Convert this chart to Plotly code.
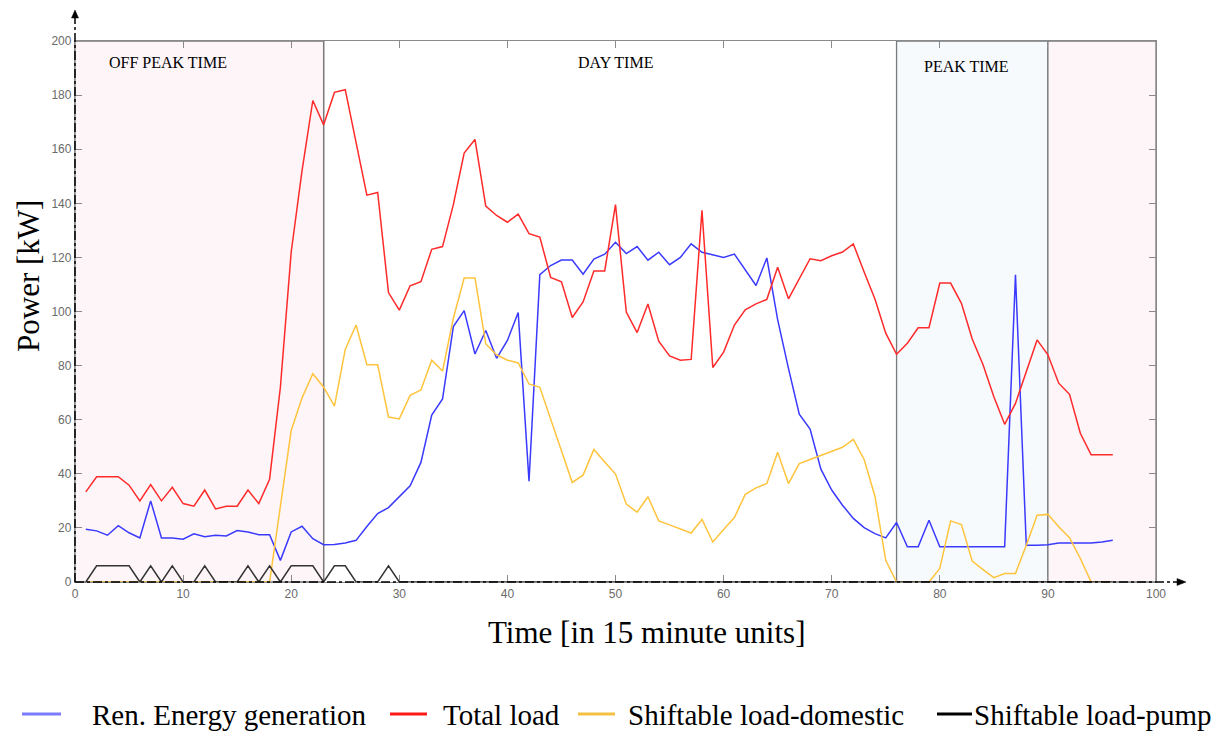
import plotly.graph_objects as go

# ---------------- data ----------------
time_units = list(range(1, 97))

ren_generation = [19.5, 18.9, 17.3, 20.8, 18.2, 16.3, 30.0, 16.3, 16.3, 15.8,
                  17.8, 16.7, 17.3, 17.0, 19.0, 18.5, 17.5, 17.5, 8.0, 18.5,
                  20.6, 16.0, 13.8, 13.9, 14.4, 15.4, 20.5, 25.3, 27.5, 31.5,
                  35.6, 44.2, 61.7, 67.7, 94.4, 100.3, 84.3, 93.0, 82.7, 89.3,
                  99.6, 37.3, 113.6, 117.0, 119.0, 119.0, 113.8, 119.4, 121.2, 125.6,
                  121.4, 124.0, 119.0, 121.9, 117.3, 120.0, 125.0, 121.9, 121.0, 120.0,
                  121.2, 115.4, 109.6, 119.8, 97.0, 79.0, 62.0, 56.5, 41.7, 34.0,
                  28.4, 23.5, 20.1, 17.9, 16.3, 22.0, 13.0, 13.0, 22.8, 13.0,
                  13.0, 13.0, 13.0, 13.0, 13.0, 13.0, 113.6, 13.6, 13.6, 13.8,
                  14.4, 14.4, 14.4, 14.4, 14.8, 15.4]

total_load = [33.3, 38.9, 38.9, 38.9, 35.8, 30.0, 36.0, 30.0, 35.0, 29.0,
              28.0, 34.0, 27.0, 28.0, 28.0, 34.0, 29.0, 38.0, 72.0, 122.0,
              152.0, 178.0, 169.0, 181.0, 182.0, 162.0, 143.0, 144.0, 107.0, 100.5,
              109.5, 111.0, 123.0, 124.0, 139.5, 158.6, 163.6, 139.0, 135.5, 133.0,
              136.0, 128.8, 127.5, 112.6, 111.0, 97.8, 103.5, 115.0, 115.0, 139.5,
              99.8, 92.2, 102.8, 89.0, 83.6, 82.0, 82.3, 137.4, 79.3, 85.0,
              95.0, 100.6, 102.8, 104.5, 116.4, 104.7, 112.0, 119.5, 118.8, 120.6,
              122.0, 125.0, 114.6, 104.6, 92.0, 84.2, 88.3, 94.0, 94.0, 110.5,
              110.5, 103.0, 89.8, 80.3, 68.5, 58.3, 66.0, 77.8, 89.5, 84.0,
              73.5, 69.4, 55.0, 47.0, 47.0, 47.0]

shiftable_domestic = [0, 0, 0, 0, 0, 0, 0, 0, 0, 0,
                      0, 0, 0, 0, 0, 0, 0, 0, 28.0, 56.0,
                      68.0, 77.0, 72.0, 65.0, 86.0, 95.0, 80.3, 80.3, 61.0, 60.3,
                      69.0, 71.0, 82.0, 78.0, 97.5, 112.4, 112.4, 88.0, 84.0, 82.0,
                      81.0, 73.2, 72.0, 60.5, 48.8, 36.8, 39.5, 49.0, 44.4, 39.9,
                      28.8, 25.8, 31.5, 22.6, 21.1, 19.6, 18.1, 23.1, 14.8, 19.4,
                      23.8, 32.4, 34.8, 36.4, 48.0, 36.4, 43.8, 45.3, 46.8, 48.3,
                      49.8, 52.7, 45.3, 31.7, 8.0, 0, 0, 0, 0, 5.0,
                      22.6, 21.2, 7.7, 4.6, 1.6, 3.1, 3.1, 13.6, 24.7, 25.0,
                      20.4, 16.4, 8.7, 0, 0, 0]

shiftable_pump = [0, 6, 6, 6, 6, 0, 6, 0, 6, 0,
                  0, 6, 0, 0, 0, 6, 0, 6, 0, 6,
                  6, 6, 0, 6, 6, 0, 0, 0, 6, 0,
                  0, 0, 0, 0, 0, 0, 0, 0, 0, 0,
                  0, 0, 0, 0, 0, 0, 0, 0, 0, 0,
                  0, 0, 0, 0, 0, 0, 0, 0, 0, 0,
                  0, 0, 0, 0, 0, 0, 0, 0, 0, 0,
                  0, 0, 0, 0, 0, 0, 0, 0, 0, 0,
                  0, 0, 0, 0, 0, 0, 0, 0, 0, 0,
                  0, 0, 0, 0, 0, 0]

series_names = ["Ren. Energy generation", "Total load",
                "Shiftable load-domestic", "Shiftable load-pump"]

# shaded time bands: (label, start, end, fill)
bands = [("OFF PEAK TIME", 0, 23, "rgb(253,245,248)"),
         ("PEAK TIME", 76, 90, "rgb(247,250,253)"),
         ("", 90, 100, "rgb(253,245,248)")]
band_labels = [("OFF PEAK TIME", 8.6, 192), ("DAY TIME", 50, 192), ("PEAK TIME", 82.5, 190.5)]

x_ticks = [0, 10, 20, 30, 40, 50, 60, 70, 80, 90, 100]
y_ticks = [0, 20, 40, 60, 80, 100, 120, 140, 160, 180, 200]

# ---------------- layout geometry ----------------
W, H = 1223, 731
L, R, T, B = 75, 67, 41, 149
PW, PH = W - L - R, H - T - B


def px(xp):
    return (xp - L) / PW


def py(yp):
    return (H - B - yp) / PH


line_colors = ["#3a3aff", "#ff2a2a", "#ffc43d", "#333333"]
legend_colors = ["#7b7bff", "#ff1a1a", "#f4c042", "#000000"]

fig = go.Figure()
for name, ys, col in zip(series_names,
                         [ren_generation, total_load, shiftable_domestic, shiftable_pump],
                         line_colors):
    fig.add_trace(go.Scatter(x=time_units, y=ys, mode="lines", name=name,
                             line=dict(color=col, width=1.5), showlegend=False))

shapes = []
for label, x0, x1, fill in bands:
    shapes.append(dict(type="rect", xref="x", yref="y", x0=x0, x1=x1, y0=0, y1=200,
                       fillcolor=fill, line=dict(color="#7a7a7a", width=1.3), layer="below"))
# day time band edge
shapes.append(dict(type="line", xref="x", yref="y", x0=23, x1=23, y0=0, y1=200,
                   line=dict(color="#7a7a7a", width=1.3), layer="below"))

# dash-dot axis arrows
shapes.append(dict(type="line", xref="paper", yref="paper", x0=0, x1=0, y0=0, y1=py(16),
                   line=dict(color="black", width=1.5, dash="dashdot")))
shapes.append(dict(type="line", xref="paper", yref="paper", x0=0, x1=px(1178), y0=0, y1=0,
                   line=dict(color="black", width=1.5, dash="dashdot")))
shapes.append(dict(type="path", xref="paper", yref="paper",
                   path=f"M {px(75)} {py(10)} L {px(71.5)} {py(18)} L {px(78.5)} {py(18)} Z",
                   fillcolor="black", line=dict(color="black", width=0.5)))
shapes.append(dict(type="path", xref="paper", yref="paper",
                   path=f"M {px(1186)} {py(582)} L {px(1177)} {py(578.5)} L {px(1177)} {py(585.5)} Z",
                   fillcolor="black", line=dict(color="black", width=0.5)))

annotations = []
for text, xv, yv in band_labels:
    annotations.append(dict(text=text, x=xv, y=yv, xref="x", yref="y", showarrow=False,
                            xanchor="center", yanchor="middle",
                            font=dict(family="Liberation Serif", size=16, color="black")))

# axis titles
annotations.append(dict(text="Time [in 15 minute units]", x=px(646), y=py(632),
                        xref="paper", yref="paper", showarrow=False,
                        xanchor="center", yanchor="middle",
                        font=dict(family="Liberation Serif", size=31, color="black")))
annotations.append(dict(text="Power [kW]", x=px(28), y=py(276), textangle=-90,
                        xref="paper", yref="paper", showarrow=False,
                        xanchor="center", yanchor="middle",
                        font=dict(family="Liberation Serif", size=31, color="black")))

# manual legend
legend_items = [(22, 61, 90), (390, 427, 441), (578, 615, 626), (937, 972, 972)]
leg_y = 715
for (lx0, lx1, tx), name, col in zip(legend_items, series_names, legend_colors):
    shapes.append(dict(type="line", xref="paper", yref="paper", x0=px(lx0), x1=px(lx1),
                       y0=py(leg_y - 1), y1=py(leg_y - 1), line=dict(color=col, width=3)))
    annotations.append(dict(text=name, x=px(tx), y=py(leg_y), xref="paper", yref="paper",
                            xanchor="left", yanchor="middle", showarrow=False,
                            font=dict(family="Liberation Serif", size=29, color="black")))

axis_common = dict(showline=True, linecolor="#8a8a8a", linewidth=1.3, mirror="ticks",
                   ticks="inside", ticklen=7, tickcolor="#8a8a8a", tickwidth=1.2,
                   showgrid=False, zeroline=False,
                   tickfont=dict(family="Liberation Sans", size=12, color="#6a6a6a"))

fig.update_layout(
    width=W, height=H,
    margin=dict(l=L, r=R, t=T, b=B),
    paper_bgcolor="white", plot_bgcolor="white",
    showlegend=False,
    xaxis=dict(range=[0, 100], tickvals=x_ticks, **axis_common),
    yaxis=dict(range=[0, 200], tickvals=y_ticks, **axis_common),
    shapes=shapes,
    annotations=annotations,
)

fig.write_html("out.html")
